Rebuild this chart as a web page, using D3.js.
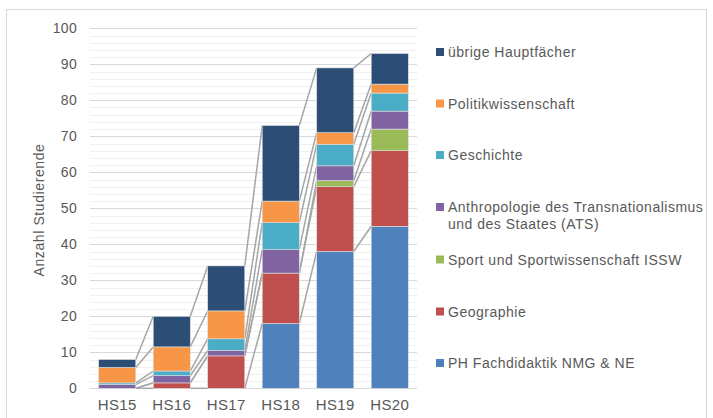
<!DOCTYPE html>
<html>
<head>
<meta charset="utf-8">
<script src="https://cdn.jsdelivr.net/npm/d3@7"></script>
<style>
  body { margin: 0; background: #fff; }
  text { font-family: "Liberation Sans", Arial, sans-serif; fill: #595959; }
</style>
</head>
<body>
<svg id="chart" width="713" height="418"></svg>
<script>

var CATEGORIES = ["HS15", "HS16", "HS17", "HS18", "HS19", "HS20"];

// series, bottom to top
var PH_NMG    = [0,   0,   0,    18,  38,  45];
var GEOGRAPHIE = [0,  1.5, 9,    14,  18,  21];
var SPORT     = [0,   0,   0,    0,   1.7, 6];
var ATS       = [1,   2,   1.5,  6.5, 4.1, 5];
var GESCHICHTE = [0.5, 1.3, 3.25, 7.5, 6,  5];
var POLITIK   = [4.3, 6.7, 7.75, 6,   3.2, 2.5];
var UEBRIGE   = [2.2, 8.5, 12.5, 21,  18,  8.5];

var SERIES_NAMES = ["PH Fachdidaktik NMG & NE", "Geographie", "Sport und Sportwissenschaft ISSW",
                    "Anthropologie des Transnationalismus|und des Staates (ATS)",
                    "Geschichte", "Politikwissenschaft", "übrige Hauptfächer"];
var SERIES_VALUES = [PH_NMG, GEOGRAPHIE, SPORT, ATS, GESCHICHTE, POLITIK, UEBRIGE];
var SERIES_COLORS = ["#4f81bd", "#c0504d", "#9bbb59", "#8064a2", "#4bacc6", "#f79646", "#2c4d75"];

var Y_TICKS = [0, 10, 20, 30, 40, 50, 60, 70, 80, 90, 100];
var Y_MINOR = [2, 4, 6, 8, 12, 14, 16, 18, 22, 24, 26, 28, 32, 34, 36, 38, 42, 44, 46, 48,
               52, 54, 56, 58, 62, 64, 66, 68, 72, 74, 76, 78, 82, 84, 86, 88, 92, 94, 96, 98];

var svg = d3.select("#chart");

// outer chart border
svg.append("rect")
   .attr("x", 6.5).attr("y", 9.5)
   .attr("width", 700).attr("height", 420)
   .attr("fill", "none")
   .attr("stroke", "#d9d9d9")
   .attr("stroke-width", 1);

var x = d3.scaleBand()
          .domain(CATEGORIES)
          .range([90, 417])
          .paddingInner(0.32)
          .paddingOuter(0.16);

var y = d3.scaleLinear()
          .domain([0, 100])
          .range([388.3, 28.3]);

// gridlines
svg.append("g").selectAll("line")
   .data(Y_MINOR).enter().append("line")
   .attr("x1", 90).attr("x2", 417)
   .attr("y1", function(d) { return Math.round(y(d)) + 0.5; })
   .attr("y2", function(d) { return Math.round(y(d)) + 0.5; })
   .attr("stroke", "#f0f0f0")
   .attr("stroke-width", 1);

svg.append("g").selectAll("line")
   .data(Y_TICKS).enter().append("line")
   .attr("x1", 90).attr("x2", 417)
   .attr("y1", function(d) { return Math.round(y(d)) + 0.5; })
   .attr("y2", function(d) { return Math.round(y(d)) + 0.5; })
   .attr("stroke", "#d9d9d9")
   .attr("stroke-width", 1);

// stack the data
var table = CATEGORIES.map(function(c, i) {
  var row = { cat: c };
  SERIES_VALUES.forEach(function(vals, s) { row["s" + s] = vals[i]; });
  return row;
});
var keys = SERIES_VALUES.map(function(v, s) { return "s" + s; });
var stacked = d3.stack().keys(keys)(table);

// series lines
stacked.forEach(function(layer) {
  for (var i = 0; i < layer.length - 1; i++)
  {
    svg.append("line")
       .attr("x1", x(CATEGORIES[i]) + x.bandwidth())
       .attr("y1", y(layer[i][1]))
       .attr("x2", x(CATEGORIES[i + 1]))
       .attr("y2", y(layer[i + 1][1]))
       .attr("stroke", "#a6a6a6")
       .attr("stroke-width", 1.5);
  }
});

// bars
svg.append("g").selectAll("g")
   .data(stacked).enter().append("g")
   .attr("fill", function(d, s) { return SERIES_COLORS[s]; })
   .selectAll("rect")
   .data(function(d) { return d; }).enter().append("rect")
   .attr("x", function(d) { return x(d.data.cat); })
   .attr("y", function(d) { return y(d[1]); })
   .attr("width", x.bandwidth())
   .attr("height", function(d) { return y(d[0]) - y(d[1]); })
   .attr("stroke", "#e0e0e0")
   .attr("stroke-width", function(d) { return d[1] > d[0] ? 0.6 : 0; });

// y axis labels
var yAxis = svg.append("g")
   .attr("transform", "translate(80,0)")
   .call(d3.axisLeft(y).tickValues(Y_TICKS).tickSize(0).tickPadding(3));
yAxis.select(".domain").remove();
yAxis.selectAll("text")
     .style("font-size", "14px")
     .style("font-family", "\"Liberation Sans\", Arial, sans-serif")
     .style("letter-spacing", "0.3px")
     .attr("fill", "#595959");

// x axis labels
var xAxis = svg.append("g")
   .attr("transform", "translate(0," + y(0) + ")")
   .call(d3.axisBottom(x).tickSize(0).tickPadding(11));
xAxis.select(".domain").remove();
xAxis.selectAll("text")
     .style("font-size", "15px")
     .style("font-family", "\"Liberation Sans\", Arial, sans-serif")
     .style("letter-spacing", "0.4px")
     .attr("fill", "#595959");

// y axis title
svg.append("text")
   .attr("transform", "translate(44,210) rotate(-90)")
   .attr("text-anchor", "middle")
   .style("font-size", "14px")
   .style("letter-spacing", "0.6px")
   .text("Anzahl Studierende");

// legend, top to bottom is reverse of stacking
var LEGEND_Y = [52, 103.5, 155, 207, 259.5, 311.5, 363];
var legend = svg.append("g");
for (var k = 0; k < SERIES_NAMES.length; k++)
{
  var s = SERIES_NAMES.length - 1 - k;
  var lines = SERIES_NAMES[s].split("|");
  var ly = LEGEND_Y[k];
  legend.append("rect")
        .attr("x", 436).attr("y", ly - 4)
        .attr("width", 8).attr("height", 8)
        .attr("fill", SERIES_COLORS[s]);
  lines.forEach(function(t, j) {
    legend.append("text")
          .attr("x", 448)
          .attr("y", ly + 5 + j * 17)
          .style("font-size", "14px")
          .style("letter-spacing", "0.5px")
          .text(t);
  });
}

</script>
</body>
</html>
